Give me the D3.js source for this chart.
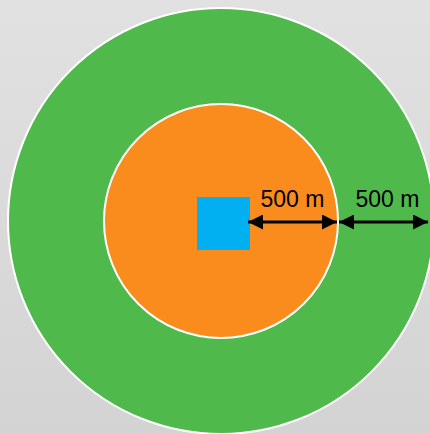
<!DOCTYPE html>
<html>
<head>
<meta charset="utf-8">
<script src="https://cdn.jsdelivr.net/npm/d3@7"></script>
<style>
  html, body { margin: 0; padding: 0; }
  body { width: 430px; height: 434px; overflow: hidden; }
</style>
</head>
<body>
<div id="chart"></div>
<script>
//distance bands out from the site edge, in metres
const bands = ["core", "buffer"];
const bandDistances = [500, 1000];
const bandColors = ["#FA8C1E", "#50B94C"];
const bandLabels = ["500 m", "500 m"];

const width = 430;
const height = 434;
const cx = 221;
const cy = 221;
const siteSize = 53;
const arrowY = 222;

//distance in metres -> x position along the arrows
const x = d3.scaleLinear()
    .domain([0, 500, 1000])
    .range([250, 338, 434]);

const svg = d3.select("#chart").append("svg")
    .attr("width", width)
    .attr("height", height);

//gray background gradient
const defs = svg.append("defs");
const grad = defs.append("linearGradient")
    .attr("id", "bg")
    .attr("x1", 0).attr("y1", 0).attr("x2", 0).attr("y2", 1);
grad.append("stop").attr("offset", "0%").attr("stop-color", "#E1E1E1");
grad.append("stop").attr("offset", "100%").attr("stop-color", "#D3D3D3");

svg.append("rect")
    .attr("width", width)
    .attr("height", height)
    .attr("fill", "url(#bg)");

//arrow heads
["start", "end"].forEach(k => {
    defs.append("marker")
        .attr("id", "arrow-" + k)
        .attr("viewBox", "0 0 10 10")
        .attr("refX", k === "end" ? 10 : 0)
        .attr("refY", 5)
        .attr("markerWidth", 5)
        .attr("markerHeight", 5)
        .attr("markerUnits", "strokeWidth")
        .attr("orient", "auto")
        .append("path")
        .attr("d", k === "end" ? "M0,0L10,5L0,10Z" : "M10,0L0,5L10,10Z")
        .attr("fill", "#000");
});

//rings, biggest first
const rings = bands.map((b, i) => ({ band: b, dist: bandDistances[i], color: bandColors[i] }));
svg.append("g")
    .selectAll("circle")
    .data(rings.slice().reverse())
    .join("circle")
    .attr("cx", cx)
    .attr("cy", cy)
    .attr("r", d => x(d.dist) - cx)
    .attr("fill", d => d.color)
    .attr("stroke", "#fff")
    .attr("stroke-width", 2);

//the site
svg.append("rect")
    .attr("x", x(0) - siteSize)
    .attr("y", 197)
    .attr("width", siteSize)
    .attr("height", siteSize)
    .attr("fill", "#00B0F0");

//dimension arrows and labels
const segs = bandDistances.map((d, i) => ({
    from: i === 0 ? 0 : bandDistances[i - 1],
    to: d,
    label: bandLabels[i]
}));

const ends = [[x(0) - 2, x(500) - 1], [x(500) + 1, 428]];

const arrows = svg.append("g")
    .selectAll("g")
    .data(segs)
    .join("g");

arrows.append("line")
    .attr("x1", (d, i) => ends[i][0])
    .attr("x2", (d, i) => ends[i][1])
    .attr("y1", arrowY)
    .attr("y2", arrowY)
    .attr("stroke", "#000")
    .attr("stroke-width", 3)
    .attr("marker-start", "url(#arrow-start)")
    .attr("marker-end", "url(#arrow-end)");

//second label sits a little right of its arrow's middle
arrows.append("text")
    .attr("x", (d, i) => (ends[i][0] + ends[i][1]) / 2 + (i === 1 ? 4 : 0))
    .attr("y", 207)
    .attr("text-anchor", "middle")
    .attr("font-family", "Liberation Sans, Arial, sans-serif")
    .attr("font-size", 23)
    .attr("fill", "#000")
    .text(d => d.label);
</script>
</body>
</html>
